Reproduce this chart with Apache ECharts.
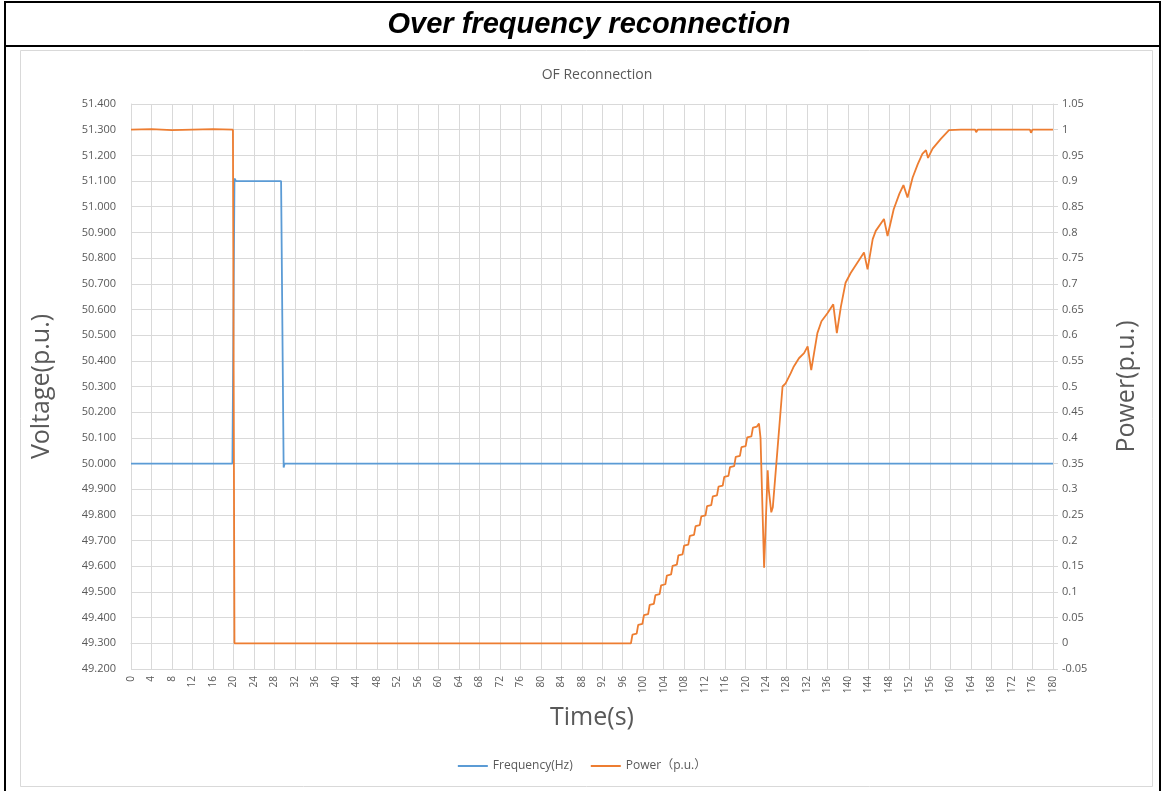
<!DOCTYPE html>
<html>
<head>
<meta charset="utf-8">
<title>Over frequency reconnection</title>
<script src="https://cdn.jsdelivr.net/npm/echarts@6/dist/echarts.min.js"></script>
<style>
  html, body { margin: 0; padding: 0; background: #ffffff; }
  #chart { width: 1164px; height: 791px; }
</style>
</head>
<body>
<div id="chart"></div>
<script>
// Frequency trace (Hz): time in seconds and value
const freqTime = [0, 4, 8, 12, 16, 19.8, 20.2, 20.5, 24, 28, 29.3, 29.8, 30.0, 40, 60, 80, 100, 120, 140, 160, 180];
const freqValue = [50.0, 50.0, 50.0, 50.0, 50.0, 50.0, 51.11, 51.1, 51.1, 51.1, 51.1, 49.985, 50.0, 50.0, 50.0, 50.0, 50.0, 50.0, 50.0, 50.0, 50.0];

// Active power trace (p.u.): time in seconds and value
const powerTime = [
  0, 4, 8, 12, 16, 19.9, 20.2, 40, 60, 80, 97.6,
  97.9, 98.72, 99.02, 99.84, 100.14, 100.96, 101.26, 102.08, 102.38, 103.2, 103.5,
  104.32, 104.62, 105.44, 105.74, 106.56, 106.86, 107.68, 107.98, 108.8, 109.1,
  109.92, 110.22, 111.04, 111.34, 112.16, 112.46, 113.28, 113.58, 114.4, 114.7,
  115.52, 115.82, 116.64, 116.94, 117.76, 118.06, 118.88, 119.18, 120.0, 120.3,
  121.12, 121.42, 122.2, 122.6, 122.9, 123.6, 124.3, 124.5, 125.0, 125.3,
  126.2, 127.2, 127.8, 128.8, 129.4, 130.4, 131.4, 132.1, 132.8, 134.0,
  134.8, 136.0, 137.1, 137.8, 138.6, 139.5, 140.5, 141.8, 143.1, 143.8,
  144.8, 145.4, 147.0, 147.7, 148.9, 150.0, 150.8, 151.6, 152.6, 153.6,
  154.5, 155.2, 155.6, 156.5, 158.1, 159.7, 162, 164.8, 165.0, 165.3,
  170, 175.5, 175.7, 176.0, 180
];
const powerValue = [
  1.0, 1.001, 0.999, 1.0, 1.001, 1.0, 0.0, 0.0, 0.0, 0.0, 0.0,
  0.017, 0.019, 0.036, 0.038, 0.055, 0.057, 0.075, 0.077, 0.094, 0.096, 0.113,
  0.115, 0.132, 0.134, 0.151, 0.153, 0.171, 0.173, 0.190, 0.192, 0.209,
  0.211, 0.228, 0.230, 0.247, 0.249, 0.267, 0.269, 0.286, 0.288, 0.305,
  0.307, 0.324, 0.326, 0.343, 0.345, 0.363, 0.365, 0.382, 0.384, 0.401,
  0.403, 0.420, 0.422, 0.428, 0.400, 0.147, 0.337, 0.300, 0.255, 0.265,
  0.376, 0.500, 0.506, 0.526, 0.539, 0.555, 0.565, 0.578, 0.532, 0.604,
  0.627, 0.643, 0.660, 0.604, 0.656, 0.702, 0.721, 0.741, 0.761, 0.728,
  0.787, 0.803, 0.826, 0.793, 0.845, 0.875, 0.892, 0.868, 0.907, 0.933,
  0.953, 0.960, 0.945, 0.963, 0.982, 0.999, 1.0, 1.0, 0.995, 1.0,
  1.0, 1.0, 0.994, 1.0, 1.0
];

// Axis ranges and tick steps
const timeRange = [0, 180, 4];
const freqRange = [49.2, 51.4, 0.1];
const powerRange = [-0.05, 1.05, 0.05];

const seriesNames = ['Frequency(Hz)', 'Power\uff08p.u.\uff09'];
const seriesColors = ['#5b9bd5', '#ed7d31'];

const zip = (xs, ys) => xs.map((x, i) => [x, ys[i]]);

const textGrey = '#595959';
const gridGrey = '#d9d9d9';
const baseFont = '"Open Sans", "Noto Sans", "Noto Sans CJK SC", sans-serif';

const chart = echarts.init(document.getElementById('chart'), null, { renderer: 'canvas' });

chart.setOption({
  animation: false,
  backgroundColor: '#ffffff',
  textStyle: { fontFamily: baseFont },
  title: {
    text: 'OF Reconnection',
    left: 592,
    top: 63,
    textAlign: 'center',
    textStyle: { fontFamily: baseFont, fontSize: 14, fontWeight: 'normal', color: textGrey }
  },
  graphic: [
    {
      type: 'rect', silent: true,
      shape: { x: 5, y: 2, width: 1155, height: 900 },
      style: { fill: 'none', stroke: '#000000', lineWidth: 2 }
    },
    {
      type: 'line', silent: true,
      shape: { x1: 5, y1: 46, x2: 1160, y2: 46 },
      style: { stroke: '#000000', lineWidth: 2 }
    },
    {
      type: 'rect', silent: true,
      shape: { x: 20.5, y: 50.5, width: 1132, height: 736 },
      style: { fill: 'none', stroke: gridGrey, lineWidth: 1 }
    },
    {
      type: 'text', silent: true,
      x: 589, y: 10,
      style: {
        text: 'Over frequency reconnection',
        font: 'italic bold 29px "Liberation Sans", Arial, sans-serif',
        fill: '#000000',
        align: 'center',
        verticalAlign: 'top'
      }
    }
  ],
  legend: {
    bottom: 14,
    left: 'center',
    icon: 'rect',
    itemWidth: 30,
    itemHeight: 2,
    itemGap: 18,
    textStyle: { fontFamily: baseFont, fontSize: 12, color: textGrey },
    data: seriesNames
  },
  grid: { left: 131, right: 111, top: 104, bottom: 122, containLabel: false },
  xAxis: {
    type: 'value',
    min: timeRange[0], max: timeRange[1], interval: timeRange[2],
    name: 'Time(s)',
    nameLocation: 'middle',
    nameGap: 36,
    nameTextStyle: { fontFamily: baseFont, fontSize: 25, color: textGrey },
    axisLine: { show: true, lineStyle: { color: gridGrey } },
    axisTick: { show: false },
    axisLabel: { rotate: 90, fontSize: 10, color: textGrey, margin: 7 },
    splitLine: { show: true, lineStyle: { color: gridGrey, width: 1 } }
  },
  yAxis: [
    {
      type: 'value',
      position: 'left',
      min: freqRange[0], max: freqRange[1], interval: freqRange[2],
      name: 'Voltage(p.u.)',
      nameLocation: 'middle',
      nameRotate: 90,
      nameGap: 77,
      nameTextStyle: { fontFamily: baseFont, fontSize: 25, color: textGrey },
      axisLine: { show: true, lineStyle: { color: gridGrey } },
      axisTick: { show: false },
      axisLabel: {
        fontSize: 11, color: textGrey, margin: 15,
        formatter: v => v.toFixed(3)
      },
      splitLine: { show: true, lineStyle: { color: gridGrey, width: 1 } }
    },
    {
      type: 'value',
      position: 'right',
      min: powerRange[0], max: powerRange[1], interval: powerRange[2],
      name: 'Power(p.u.)',
      nameLocation: 'middle',
      nameRotate: 90,
      nameGap: 61,
      nameTextStyle: { fontFamily: baseFont, fontSize: 25, color: textGrey },
      axisLine: { show: true, lineStyle: { color: gridGrey } },
      axisTick: { show: true, length: 5, lineStyle: { color: gridGrey } },
      axisLabel: {
        fontSize: 11, color: textGrey, margin: 9,
        formatter: v => String(Math.round(v * 100) / 100)
      },
      splitLine: { show: false }
    }
  ],
  series: [
    {
      name: seriesNames[0],
      type: 'line',
      yAxisIndex: 0,
      symbol: 'none',
      data: zip(freqTime, freqValue),
      lineStyle: { color: seriesColors[0], width: 1.8 },
      itemStyle: { color: seriesColors[0] },
      z: 3
    },
    {
      name: seriesNames[1],
      type: 'line',
      yAxisIndex: 1,
      symbol: 'none',
      data: zip(powerTime, powerValue),
      lineStyle: { color: seriesColors[1], width: 1.8 },
      itemStyle: { color: seriesColors[1] },
      z: 4
    }
  ]
});
</script>
</body>
</html>
